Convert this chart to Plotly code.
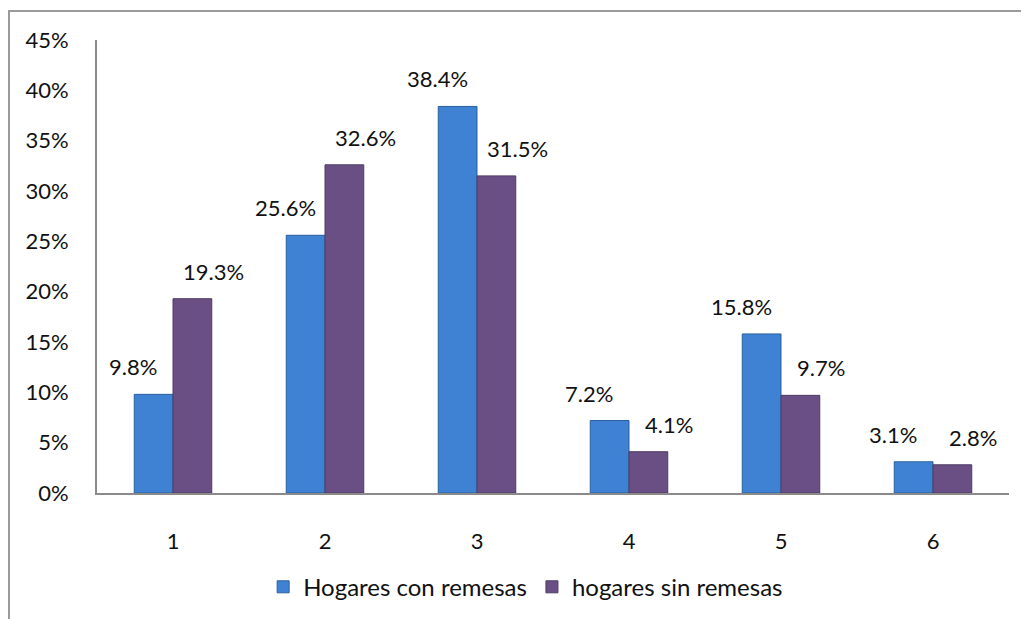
import plotly.graph_objects as go

categorias = ['1', '2', '3', '4', '5', '6']
con_remesas = [9.8, 25.6, 38.4, 7.2, 15.8, 3.1]
sin_remesas = [19.3, 32.6, 31.5, 4.1, 9.7, 2.8]
ticks_y = [0, 5, 10, 15, 20, 25, 30, 35, 40, 45]

fuente = 'Lato'
azul = '#3f82d4'
morado = '#6a4f85'

fig = go.Figure()
fig.add_trace(go.Bar(
    x=categorias, y=con_remesas, name='Hogares con remesas',
    marker=dict(color=azul, line=dict(color='#2a5f9e', width=1)),
))
fig.add_trace(go.Bar(
    x=categorias, y=sin_remesas, name='hogares sin remesas',
    marker=dict(color=morado, line=dict(color='#4e3a63', width=1)),
))

# etiquetas desplazadas hacia afuera, como en Excel
anotaciones = []
for i, v in enumerate(con_remesas):
    anotaciones.append(dict(x=i, y=v, text=f'{v:.1f}%', showarrow=False,
                            xshift=-40, yshift=12, yanchor='bottom'))
for i, v in enumerate(sin_remesas):
    anotaciones.append(dict(x=i, y=v, text=f'{v:.1f}%', showarrow=False,
                            xshift=40, yshift=12, yanchor='bottom'))

fig.update_layout(
    width=1021, height=611,
    barmode='group', bargap=0.49, bargroupgap=0,
    plot_bgcolor='white', paper_bgcolor='white',
    font=dict(family=fuente, size=22, color='#111111'),
    margin=dict(l=89, r=20, t=32, b=126, autoexpand=False),
    annotations=anotaciones,
    showlegend=True,
    legend=dict(orientation='h', xref='container', x=0.507, xanchor='center',
                yref='container', y=0.052, yanchor='middle',
                font=dict(size=24), itemwidth=30, traceorder='normal'),
    shapes=[dict(type='rect', xref='paper', yref='paper',
                 x0=-0.0965, x1=1.2, y0=-0.4, y1=1.064,
                 line=dict(color='#9a9a9a', width=2), layer='below')],
)
fig.update_yaxes(
    range=[0, 45], tickvals=ticks_y, ticktext=[f'{t}%' for t in ticks_y],
    showgrid=False, zeroline=False, showline=True, linecolor='#8a8a8a',
    linewidth=2, ticks='', ticklabelstandoff=22, automargin=False,
)
fig.update_xaxes(
    type='category', range=[-0.5, 5.5],
    showgrid=False, showline=True, linecolor='#8a8a8a', linewidth=2,
    ticks='', ticklabelstandoff=28, automargin=False,
)

fig.write_html('out.html')
